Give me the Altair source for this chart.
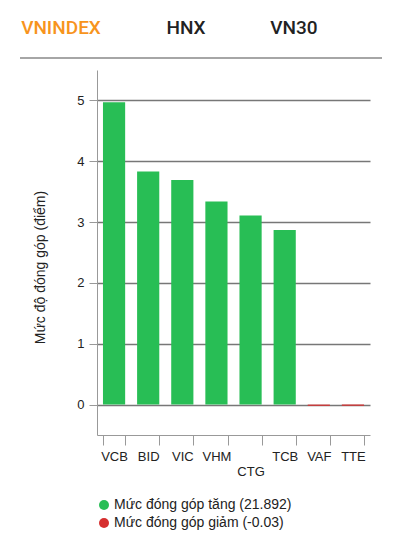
import altair as alt
import pandas as pd

symbols = ["VCB", "BID", "VIC", "VHM", "CTG", "TCB", "VAF", "TTE"]
values = [4.97, 3.83, 3.69, 3.34, 3.11, 2.87, -0.02, -0.02]
up_label = "Mức đóng góp tăng (21.892)"
down_label = "Mức đóng góp giảm (-0.03)"
tabs = ["VNINDEX", "HNX", "VN30"]
y_ticks = [0, 1, 2, 3, 4, 5]

df = pd.DataFrame({
    "symbol": symbols,
    "value": values,
    "group": [up_label if v >= 0 else down_label for v in values],
})

FONT = "Liberation Sans"
W, H = 273, 365

bars = alt.Chart(df).mark_bar().encode(
    x=alt.X("symbol:N", sort=symbols, title=None,
            scale=alt.Scale(paddingInner=0.35, paddingOuter=0.175),
            axis=alt.Axis(labelAngle=0, tickBand="extent", labelFontSize=13,
                          labelColor="#222", labelFont=FONT, tickSize=10,
                          tickColor="#999", domainColor="#999", labelPadding=5,
                          labelExpr="datum.label == 'CTG' ? ['', 'CTG'] : datum.label")),
    y=alt.Y("value:Q", scale=alt.Scale(domain=[-0.5, 5.5], nice=False, zero=False),
            title="Mức độ đóng góp (điểm)",
            axis=alt.Axis(values=y_ticks, grid=True, gridColor="#777", gridWidth=1.5,
                          domainColor="#999", tickColor="#999", tickSize=8,
                          labelFontSize=13, labelColor="#222", labelFont=FONT,
                          labelPadding=5, titleFont=FONT, titleFontSize=14,
                          titleFontWeight="normal", titleColor="#222",
                          titleX=-50, titleY=197, titleAnchor="middle")),
    color=alt.Color("group:N",
                    scale=alt.Scale(domain=[up_label, down_label],
                                    range=["#28be55", "#d62f2f"]),
                    legend=alt.Legend(title=None, orient="none", legendX=0, legendY=428,
                                      symbolType="circle", symbolSize=100,
                                      symbolStrokeWidth=0, labelFontSize=14,
                                      labelFont=FONT, labelColor="#222", labelLimit=0,
                                      rowPadding=4, labelOffset=3)),
)

tab_df = pd.DataFrame({"tab": tabs, "xpos": [-36, 89, 197],
                       "col": ["#f7941d", "#222222", "#222222"]})
tab_text = alt.Chart(tab_df).mark_text(
    font="Roboto", fontSize=19, fontWeight=500, baseline="middle", align="center"
).encode(
    x=alt.X("xpos:Q", scale=None),
    y=alt.value(-42),
    text="tab:N",
    color=alt.Color("col:N", scale=None),
)

sep = alt.Chart(pd.DataFrame({"a": [0]})).mark_rule(color="#888", strokeWidth=1.5).encode(
    x=alt.value(-77), x2=alt.value(285), y=alt.value(-12)
)

chart = alt.layer(bars, tab_text, sep).properties(
    width=W, height=H,
    autosize=alt.AutoSizeParams(type="none"),
    padding={"left": 89, "top": 62, "right": 30, "bottom": 100},
    background="white",
).configure_view(stroke=None)

chart.save("out.html", embed_options={"renderer": "svg", "actions": False})
